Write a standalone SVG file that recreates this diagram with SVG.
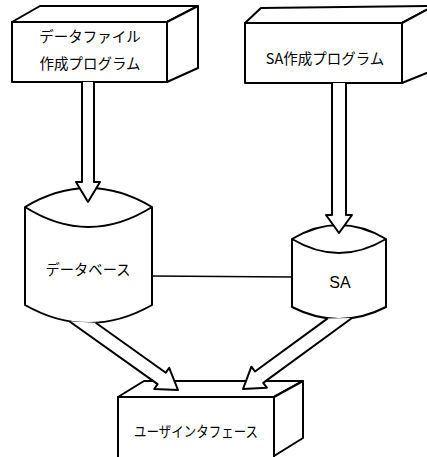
<svg xmlns="http://www.w3.org/2000/svg" width="427" height="457" viewBox="0 0 427 457">
<style>
.s{fill:#fff;stroke:#000;stroke-width:2;stroke-linejoin:round}
.n{fill:none;stroke:#000;stroke-width:2}
.t{font-family:"Noto Sans CJK JP","Liberation Sans",sans-serif;font-size:14.5px;fill:#000;text-anchor:middle;dominant-baseline:central}
.l{font-family:"Liberation Sans",sans-serif;font-size:16px;fill:#000;text-anchor:middle;dominant-baseline:central}
</style>
<rect width="427" height="457" fill="#fff"/>
<g id="box-datafile">
<rect class="s" x="12" y="22" width="155" height="60"/>
<path class="s" d="M12,22 L40,6 L198,6 L167,22 Z"/>
<path class="s" d="M167,22 L198,6 L198,68 L167,82 Z"/>
<text class="t" x="90" y="35">データファイル</text>
<text class="t" x="90" y="62">作成プログラム</text>
</g>
<g id="box-sa-program">
<rect class="s" x="245" y="23" width="157" height="60"/>
<path class="s" d="M245,23 L261,8 L434,6 L402,23 Z"/>
<path class="s" d="M402,23 L434,6 L434,70 L402,83 Z"/>
<text class="t" x="325" y="57" font-size="15">SA作成プログラム</text>
</g>
<g id="database">
<path class="s" d="M25,207 Q88.5,169 152,207 L152,305 Q88.5,341 25,305 Z"/>
<path class="n" d="M25,207 Q88.5,247 152,207"/>
<text class="t" x="88" y="268" textLength="85" lengthAdjust="spacingAndGlyphs">データベース</text>
</g>
<g id="sa">
<path class="s" d="M292,239 Q339,211 386,239 L386,307 Q339,331 292,307 Z"/>
<path class="n" d="M292,239 Q339,267 386,239"/>
<text class="l" x="340" y="282">SA</text>
</g>
<g id="user-interface">
<rect class="s" x="118" y="397" width="156" height="65"/>
<path class="s" d="M118,397 L144,381 L303,381 L274,397 Z"/>
<path class="s" d="M274,397 L303,381 L303,438 L274,456 Z"/>
<text class="t" x="196" y="430" textLength="124" lengthAdjust="spacingAndGlyphs">ユーザインタフェース</text>
</g>
<g id="connectors">
<line x1="152" y1="276" x2="292" y2="277" stroke="#000" stroke-width="1.6"/>
<path class="s" d="M82,82 L82,182 L76,182 L88,202 L100,182 L94,182 L94,82"/>
<path class="s" d="M332,83 L332,215 L326,215 L339,233 L352,215 L346,215 L346,83"/>
<path class="s" d="M95.7,322.7 L165.8,372.7 L169.2,367.8 L178,390 L154.2,389 L157.6,384.1 L69.3,321.3"/>
<path class="s" d="M327.7,318.4 L255,371.5 L251.4,366.7 L243,389 L266.8,387.7 L263.2,382.9 L352,318"/>
</g>
</svg>
